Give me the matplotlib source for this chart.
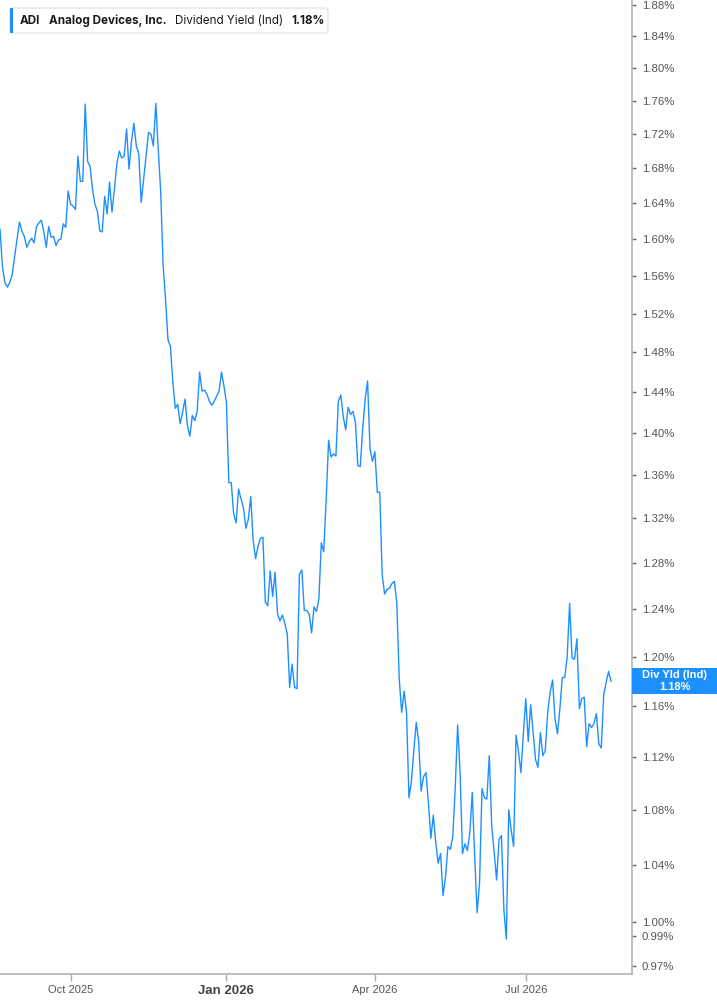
import numpy as np
import pandas as pd
import matplotlib
matplotlib.use('Agg')
from matplotlib import pyplot as plt
from matplotlib.ticker import FixedLocator, NullLocator
from matplotlib.patches import FancyBboxPatch, Rectangle

plt.rcParams['font.family'] = ['Liberation Sans', 'DejaVu Sans']

# NYSE closures inside the window
holidays = ['2025-09-01', '2025-11-27', '2025-12-25', '2026-01-01', '2026-01-19',
            '2026-02-16', '2026-04-03', '2026-05-25', '2026-06-19', '2026-07-03']
dates = pd.bdate_range('2025-08-20', '2026-08-20', freq='C', holidays=holidays)

# ADI dividend yield (ind), in %
yld = [
    1.611, 1.570, 1.553, 1.548, 1.553, 1.561, 1.581, 1.600, 1.619, 1.609,
    1.603, 1.591, 1.597, 1.601, 1.596, 1.614, 1.618, 1.621, 1.608, 1.591,
    1.614, 1.602, 1.603, 1.593, 1.599, 1.600, 1.617, 1.613, 1.654, 1.639,
    1.637, 1.633, 1.694, 1.665, 1.665, 1.756, 1.688, 1.682, 1.656, 1.639,
    1.631, 1.609, 1.608, 1.648, 1.628, 1.664, 1.630, 1.656, 1.685, 1.700,
    1.692, 1.694, 1.726, 1.679, 1.711, 1.733, 1.706, 1.697, 1.641, 1.667,
    1.694, 1.722, 1.720, 1.706, 1.757, 1.702, 1.654, 1.572, 1.535, 1.493,
    1.486, 1.450, 1.424, 1.428, 1.409, 1.420, 1.433, 1.407, 1.397, 1.417,
    1.412, 1.421, 1.460, 1.441, 1.442, 1.438, 1.431, 1.427, 1.431, 1.436,
    1.441, 1.460, 1.446, 1.430, 1.353, 1.353, 1.324, 1.316, 1.347, 1.338,
    1.330, 1.311, 1.319, 1.340, 1.300, 1.284, 1.295, 1.302, 1.303, 1.246,
    1.243, 1.273, 1.251, 1.272, 1.236, 1.230, 1.235, 1.228, 1.219, 1.175,
    1.194, 1.175, 1.174, 1.270, 1.274, 1.239, 1.239, 1.236, 1.220, 1.242,
    1.238, 1.249, 1.298, 1.290, 1.338, 1.393, 1.377, 1.380, 1.378, 1.431,
    1.437, 1.416, 1.403, 1.425, 1.418, 1.421, 1.410, 1.369, 1.368, 1.404,
    1.433, 1.451, 1.385, 1.373, 1.382, 1.344, 1.344, 1.270, 1.253, 1.257,
    1.258, 1.262, 1.264, 1.246, 1.182, 1.155, 1.172, 1.155, 1.089, 1.101,
    1.125, 1.147, 1.132, 1.094, 1.105, 1.108, 1.085, 1.059, 1.076, 1.056,
    1.041, 1.048, 1.018, 1.031, 1.053, 1.051, 1.060, 1.096, 1.145, 1.108,
    1.048, 1.055, 1.050, 1.063, 1.093, 1.046, 1.006, 1.027, 1.096, 1.089,
    1.088, 1.121, 1.068, 1.049, 1.029, 1.058, 1.061, 1.008, 0.988, 1.080,
    1.065, 1.053, 1.137, 1.124, 1.108, 1.138, 1.166, 1.132, 1.161, 1.139,
    1.118, 1.112, 1.139, 1.121, 1.125, 1.155, 1.171, 1.181, 1.150, 1.138,
    1.158, 1.183, 1.183, 1.200, 1.245, 1.199, 1.198, 1.215, 1.158, 1.166,
    1.167, 1.128, 1.146, 1.143, 1.146, 1.154, 1.130, 1.127, 1.169, 1.179,
    1.188, 1.180,
]

y_ticks = [0.97, 0.99, 1.00, 1.04, 1.08, 1.12, 1.16, 1.20, 1.24, 1.28, 1.32, 1.36,
           1.40, 1.44, 1.48, 1.52, 1.56, 1.60, 1.64, 1.68, 1.72, 1.76, 1.80, 1.84, 1.88]
tick_months = ['2025-10-01', '2026-01-01', '2026-04-01', '2026-07-01']
tick_labels = ['Oct 2025', 'Jan 2026', 'Apr 2026', 'Jul 2026']

BLUE = '#1e8fff'
W, H = 717, 1005

n = min(len(dates), len(yld))
x = np.arange(n)
y = np.array(yld[:n])

fig = plt.figure(figsize=(W / 100, H / 100), dpi=100)
ax = fig.add_axes([0, 31 / H, 632 / W, 1 - 31 / H])

ax.plot(x, y, color=BLUE, linewidth=1.0)

ax.set_yscale('log')
ax.set_ylim(0.9645, 1.8865)
ax.set_xlim(0, n - 1 + 21 / 2.434)

ax.yaxis.tick_right()
ax.yaxis.set_major_locator(FixedLocator(y_ticks))
ax.yaxis.set_minor_locator(NullLocator())
ax.set_yticklabels(['%.2f%%' % v for v in y_ticks])
ax.tick_params(axis='y', which='major', length=3, width=1, color='#666666',
               labelsize=8.2, labelcolor='#555555', pad=4)

tick_pos = [int(np.searchsorted(dates[:n], pd.Timestamp(m))) for m in tick_months]
ax.set_xticks(tick_pos)
ax.set_xticklabels(tick_labels)
ax.xaxis.set_minor_locator(NullLocator())
ax.tick_params(axis='x', length=5, width=1, color='#aaaaaa', labelsize=8,
               labelcolor='#555555', pad=3)
for lab in ax.get_xticklabels():
    if lab.get_text() == 'Jan 2026':
        lab.set_fontweight('bold')
        lab.set_fontsize(9.5)
        lab.set_color('#444444')

for side in ['top', 'left']:
    ax.spines[side].set_visible(False)
for side in ['right', 'bottom']:
    ax.spines[side].set_color('#b3b3b3')
    ax.spines[side].set_linewidth(1.2)

# header box
def fx(px):
    return px / W

def fy(py):
    return 1 - py / H

hdr = FancyBboxPatch((fx(10), fy(33)), fx(318), 25 / H,
                     boxstyle='round,pad=0,rounding_size=0.004',
                     transform=fig.transFigure, facecolor='white',
                     edgecolor='#e4e4e4', linewidth=1.0)
fig.add_artist(hdr)
fig.add_artist(Rectangle((fx(10), fy(33)), fx(3), 25 / H, transform=fig.transFigure,
                         facecolor=BLUE, edgecolor='none'))

hfont = ['Inter', 'Liberation Sans', 'DejaVu Sans']
header = [('ADI', 'bold', 9), ('Analog Devices, Inc.', 'bold', 8),
          ('Dividend Yield (Ind)', 'normal', 8), ('%.2f%%' % y[-1], 'bold', 8)]
renderer = fig.canvas.get_renderer()
xpos = 20
for txt, wt, gap in header:
    t = fig.text(fx(xpos), fy(21), txt, fontsize=8.4, fontweight=wt, color='#1a1a1a',
                 va='center', family=hfont)
    xpos += t.get_window_extent(renderer).width + gap

# last value tag on the axis
fig.canvas.draw()
yd = ax.transData.transform((0, y[-1]))[1] / H
fig.add_artist(Rectangle((fx(632), yd - 13 / H), 1 - fx(632), 26 / H,
                         transform=fig.transFigure, facecolor=BLUE, edgecolor='none'))
fig.text(fx(675), yd + 6 / H, 'Div Yld (Ind)', fontsize=8, fontweight='bold',
         color='white', ha='center', va='center')
fig.text(fx(675), yd - 6 / H, '%.2f%%' % y[-1], fontsize=8, fontweight='bold',
         color='white', ha='center', va='center')

fig.savefig('out.png', dpi=100)
